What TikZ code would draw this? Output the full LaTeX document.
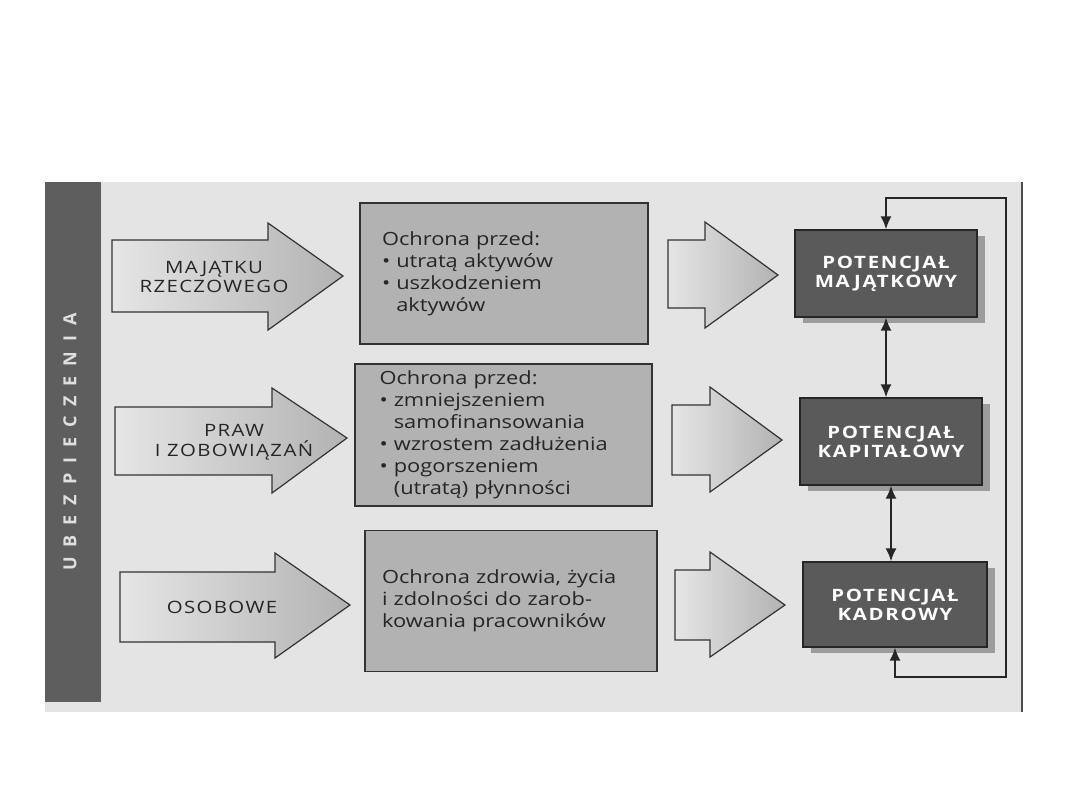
\documentclass[tikz,border=0pt]{standalone}
\usepackage{fontspec}
\usetikzlibrary{arrows.meta,shadows}
\setmainfont{Open Sans}[FakeStretch=1.2]
\newfontfamily\arrowfont{Open Sans}[FakeStretch=1.2,LetterSpace=8]
\newfontfamily\potfont{Open Sans}[FakeStretch=1.2,LetterSpace=10]
\newfontfamily\barfont{Open Sans}[LetterSpace=55]
\definecolor{panel}{HTML}{E4E4E4}
\definecolor{bargray}{HTML}{5E5E5E}
\definecolor{boxgray}{HTML}{B2B2B2}
\definecolor{potgray}{HTML}{5A5A5A}
\definecolor{shadowgray}{HTML}{9C9C9C}
\tikzset{
  bigarrow/.style={draw=black!80, line width=0.6pt, left color=gray!20, right color=gray!60},
  arrowtext/.style={align=center, font=\arrowfont\fontsize{8.5}{9.75}\selectfont, text=black!85},
  midbox/.style={draw=black!80, line width=0.8pt, fill=boxgray, align=left,
    font=\fontsize{9.1}{11}\selectfont, text=black!85},
  potbox/.style={draw=black!85, line width=0.6pt, fill=potgray, align=center, text=white!92,
    font=\potfont\bfseries\fontsize{8.5}{9.5}\selectfont, minimum width=91pt, minimum height=43.5pt,
    drop shadow={shadow xshift=4pt, shadow yshift=-3pt, fill=shadowgray, opacity=1}},
  link/.style={draw=black!85, line width=1pt, {Latex[length=6.5pt,width=5.5pt]}-{Latex[length=6.5pt,width=5.5pt]}}
}
\begin{document}
\begin{tikzpicture}[x=0.5pt, y=-0.5pt]
\useasboundingbox (0,0) rectangle (1080,810);
\fill[white] (0,0) rectangle (1080,810);
% page and side bar
\fill[panel] (45,182) rectangle (1022,712);
\draw[black!70, line width=1pt] (1022,182) -- (1022,712);
\fill[bargray] (45,182) rectangle (101,702);
\node[rotate=90, text=gray!25, font=\barfont\bfseries\fontsize{9}{9}\selectfont] (ubezp) at (70,442) {UBEZPIECZENIA};

% big arrows
\draw[bigarrow] (112,240) -- (268,240) -- (268,223) -- (343,276) -- (268,330) -- (268,312) -- (112,312) -- cycle;
\draw[bigarrow] (115,407) -- (272,407) -- (272,388) -- (347,438) -- (272,493) -- (272,475) -- (115,475) -- cycle;
\draw[bigarrow] (120,572) -- (275,572) -- (275,553) -- (350,605) -- (275,658) -- (275,642) -- (120,642) -- cycle;
\node[arrowtext] (majatek) at (214,277) {MAJĄTKU\\RZECZOWEGO};
\node[arrowtext] (praw) at (234,442) {PRAW\\I ZOBOWIĄZAŃ};
\node[arrowtext] (osob) at (222,607) {OSOBOWE};

% middle boxes
\node[midbox, minimum width=144pt, minimum height=70.5pt, text width=122pt] (ochr1) at (504,273.5)
  {Ochrona przed:\\\textbullet\ utratą aktywów\\\textbullet\ uszkodzeniem\\\phantom{\textbullet\ }aktywów};
\node[midbox, minimum width=148.5pt, minimum height=70pt, text width=124pt] (ochr2) at (503.5,435)
  {Ochrona przed:\\\textbullet\ zmniejszeniem\\\phantom{\textbullet\ }samofinansowania\\\textbullet\ wzrostem zadłużenia\\\textbullet\ pogorszeniem\\\phantom{\textbullet\ }(utratą) płynności};
\node[midbox, minimum width=146pt, minimum height=70.5pt, text width=129pt] (ochr3) at (511,601)
  {Ochrona zdrowia, życia\\i zdolności do zarob-\\kowania pracowników};

% small arrows
\draw[bigarrow] (668,240) -- (705,240) -- (705,222) -- (778,275) -- (705,328) -- (705,308) -- (668,308) -- cycle;
\draw[bigarrow] (672,405) -- (710,405) -- (710,387) -- (782,440) -- (710,492) -- (710,475) -- (672,475) -- cycle;
\draw[bigarrow] (675,570) -- (710,570) -- (710,552) -- (785,605) -- (710,657) -- (710,640) -- (675,640) -- cycle;

% potentials
\node[potbox] (pm) at (886,273.5) {POTENCJAŁ\\MAJĄTKOWY};
\node[potbox] (pc) at (891,441.5) {POTENCJAŁ\\KAPITAŁOWY};
\node[potbox, minimum width=92pt, minimum height=42.5pt] (pk) at (895,604.5) {POTENCJAŁ\\KADROWY};

\coordinate (lt) at (1006,198);
\coordinate (lb) at (1006,677);
\draw[link] (pm.north) |- (lt) -- (lb) -| (pk.south);
\draw[link] (pm.south) -- (pm.south |- pc.north);
\draw[link] (pc.south) -- (pc.south |- pk.north);
\end{tikzpicture}
\end{document}
